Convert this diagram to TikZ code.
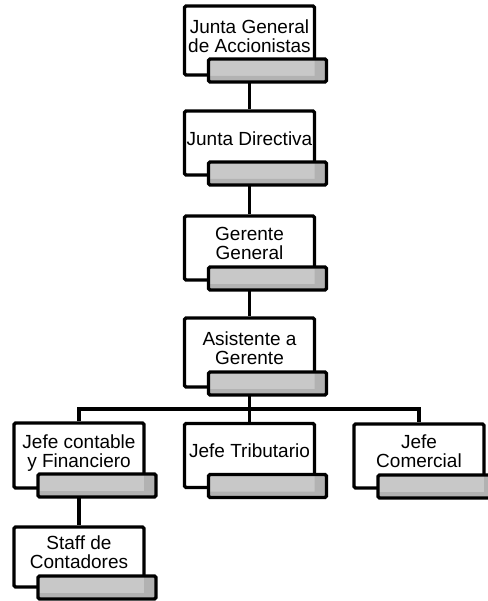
\documentclass[tikz,border=0pt]{standalone}
\usepackage{fontspec}
\setmainfont{Liberation Sans}
\usetikzlibrary{positioning, calc, backgrounds}
\definecolor{barragris}{HTML}{C8C8C8}
\definecolor{barrasombra}{HTML}{B2B2B2}

\begin{document}
\begin{tikzpicture}[x=1pt,y=-1pt,
    cargo/.style={draw, line width=3.2pt, fill=white, rounded corners=1.5pt,
        minimum width=130pt, align=center, inner sep=0pt, text depth=9pt,
        font=\fontsize{19}{19}\selectfont},
    barra/.style={draw, line width=3.2pt, fill=barragris, rounded corners=1.5pt,
        minimum width=118pt, minimum height=23pt, inner sep=0pt, anchor=south east,
        path picture={
            \fill[barrasombra] ([xshift=-12pt]path picture bounding box.north east)
                rectangle (path picture bounding box.south east);
            \fill[barrasombra] (path picture bounding box.south west)
                rectangle ([yshift=6pt]path picture bounding box.south east);}},
    linea/.style={line width=3.2pt}]
    \useasboundingbox (0,0) rectangle (487,601);
    % Cargos
    \node[cargo, minimum height=69pt] (junta) at (249.5,40.5) {Junta General\\de Accionistas};
    \node[barra] (juntab) at ([xshift=12pt,yshift=-7pt]junta.south east) {};
    \node[cargo, minimum height=64pt] (directiva) at (249.5,143) {Junta Directiva};
    \node[barra] (directivab) at ([xshift=12pt,yshift=-10pt]directiva.south east) {};
    \node[cargo, minimum height=64pt] (gerente) at (249.5,248) {Gerente\\General};
    \node[barra] (gerenteb) at ([xshift=12pt,yshift=-10pt]gerente.south east) {};
    \node[cargo, minimum height=69pt] (asistente) at (249.5,352.5) {Asistente a\\Gerente};
    \node[barra] (asistenteb) at ([xshift=12pt,yshift=-8pt]asistente.south east) {};
    \node[cargo, minimum height=65pt] (contable) at (79,455.5) {Jefe contable\\y Financiero};
    \node[barra] (contableb) at ([xshift=12pt,yshift=-9pt]contable.south east) {};
    \node[cargo, minimum height=64pt] (tributario) at (249.5,455.5) {Jefe Tributario};
    \node[barra] (tributariob) at ([xshift=12pt,yshift=-10pt]tributario.south east) {};
    \node[cargo, minimum height=64pt] (comercial) at (419,456) {Jefe\\Comercial};
    \node[barra] (comercialb) at ([xshift=12pt,yshift=-10pt]comercial.south east) {};
    \node[cargo, minimum height=60pt] (staff) at (79,557) {Staff de\\Contadores};
    \node[barra] (staffb) at ([xshift=12pt,yshift=-12pt]staff.south east) {};
    % Lineas de mando
    \coordinate (bus) at (249.5,409);
    \begin{scope}[on background layer]
        \draw[linea] (junta) -- (directiva) -- (gerente) -- (asistente) -- (bus);
        \draw[linea] (contable) |- (bus) -| (comercial);
        \draw[linea] (bus) -- (tributario);
        \draw[linea] (contable) -- (staff);
    \end{scope}
\end{tikzpicture}
\end{document}
